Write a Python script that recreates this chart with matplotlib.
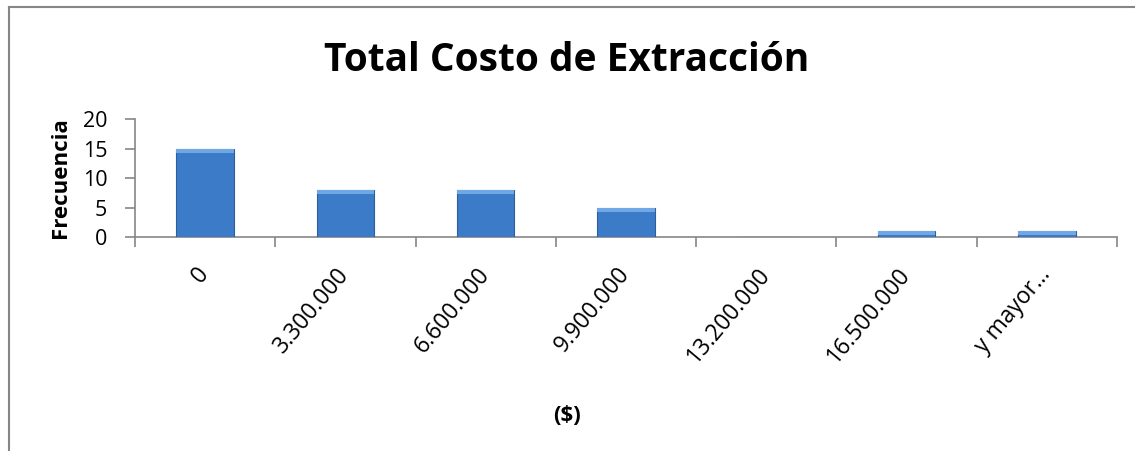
import matplotlib.pyplot as plt
import matplotlib.transforms as mtransforms
import numpy as np

# Histogram data
categories = ["0", "3.300.000", "6.600.000", "9.900.000", "13.200.000", "16.500.000", "y mayor..."]
frecuencia = [15, 8, 8, 5, 0, 1, 1]
y_ticks = [0, 5, 10, 15, 20]

plt.rcParams['font.family'] = ['Open Sans', 'DejaVu Sans']

fig = plt.figure(figsize=(11.35, 4.51), dpi=100)
ax = fig.add_axes([0.1189, 0.4745, 0.8652, 0.2616])

x = np.arange(len(categories))
vals = np.array(frecuencia, dtype=float)
grey = "#868686"

# main bars + lighter bevel on top
ax.bar(x, vals, width=0.41, color="#3C7BC8", edgecolor="#2D5F9E", linewidth=0.8, zorder=3)
band = np.minimum(vals, 0.7)
ax.bar(x, band, bottom=vals - band, width=0.41, color="#70A8E6", linewidth=0, zorder=4)

ax.set_xlim(-0.5, len(categories) - 0.5)
ax.set_ylim(0, 20)
ax.set_yticks(y_ticks)
ax.set_yticklabels([str(t) for t in y_ticks], fontsize=15.5)

ax.set_xticks(x)
ax.set_xticklabels(categories, rotation=50, ha='right', va='center',
                   rotation_mode='anchor', fontsize=16.5)
shift = mtransforms.ScaledTranslation(8 / 100, 0, fig.dpi_scale_trans)
for lbl in ax.get_xticklabels():
    lbl.set_transform(lbl.get_transform() + shift)
ax.tick_params(axis='x', length=0, pad=24)
ax.set_xticks(np.arange(len(categories) + 1) - 0.5, minor=True)
ax.tick_params(axis='x', which='minor', length=7, color=grey, width=1.2)
ax.tick_params(axis='y', length=7, color=grey, width=1.2, pad=13)

for s in ['top', 'right']:
    ax.spines[s].set_visible(False)
for s in ['left', 'bottom']:
    ax.spines[s].set_color(grey)
    ax.spines[s].set_linewidth(1.2)

ax.set_ylabel("Frecuencia", fontsize=16, fontweight='bold', labelpad=8)
fig.text(0.4996, 0.078, "($)", ha='center', va='center', fontsize=16, fontweight='bold')
fig.text(0.4996, 0.865, "Total Costo de Extracción", ha='center', va='center',
         fontsize=28, fontweight='bold')

# outer chart frame (left and top edges visible)
fig.add_artist(plt.Line2D([0.0075, 0.0075], [0, 0.985], color=grey, linewidth=1.5))
fig.add_artist(plt.Line2D([0.0075, 1.0], [0.985, 0.985], color=grey, linewidth=1.5))

fig.savefig("out.png", dpi=100)
